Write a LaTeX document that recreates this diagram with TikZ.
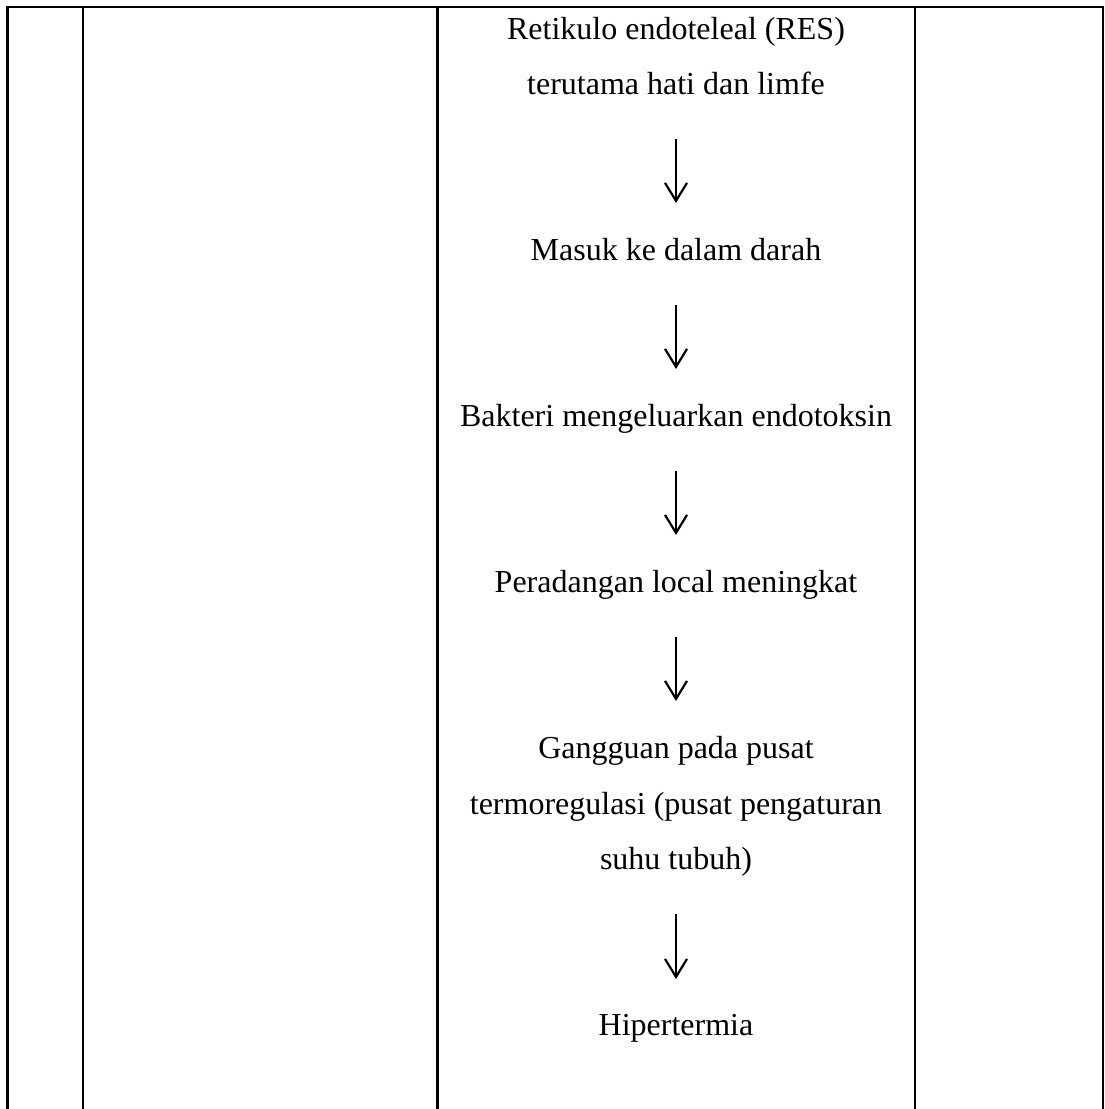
\documentclass[tikz,border=0pt]{standalone}
\usepackage{fontspec}
\setmainfont{Liberation Serif}
\usetikzlibrary{positioning,arrows.meta}
\newcommand{\Tabel}{
    \draw[garis] (7.5,7) -- (1103,7);
    \foreach \x in {7.5,83,437.5,915,1103}
        \draw[garis] (\x,7) -- (\x,1109);
}

\begin{document}
\begin{tikzpicture}[x=0.5pt,y=-0.5pt,
    garis/.style={black, line width=1.1pt, line cap=rect},
    teks/.style={align=center, inner sep=0pt, text depth=0pt, font=\fontsize{16}{27.75}\selectfont},
    panah/.style={-{Straight Barb[length=9pt,width=11pt]}, black, line width=1.1pt, shorten <=22pt, shorten >=17.5pt}]
        \useasboundingbox (0,0) rectangle (1104,1109);
        \Tabel
        \node[teks, anchor=south] (res) at (676,95) {Retikulo endoteleal (RES)\\terutama hati dan limfe};
        \node[teks, below=71.5pt of res] (darah) {Masuk ke dalam darah};
        \node[teks, below=71.5pt of darah] (endotoksin) {Bakteri mengeluarkan endotoksin};
        \node[teks, below=71.5pt of endotoksin] (radang) {Peradangan local meningkat};
        \node[teks, below=71.5pt of radang] (termo) {Gangguan pada pusat\\termoregulasi (pusat pengaturan\\suhu tubuh)};
        \node[teks, below=72pt of termo] (hiper) {Hipertermia};
        \draw[panah] (res) -- (darah);
        \draw[panah] (darah) -- (endotoksin);
        \draw[panah] (endotoksin) -- (radang);
        \draw[panah] (radang) -- (termo);
        \draw[panah] (termo) -- (hiper);
    \end{tikzpicture}
\end{document}
